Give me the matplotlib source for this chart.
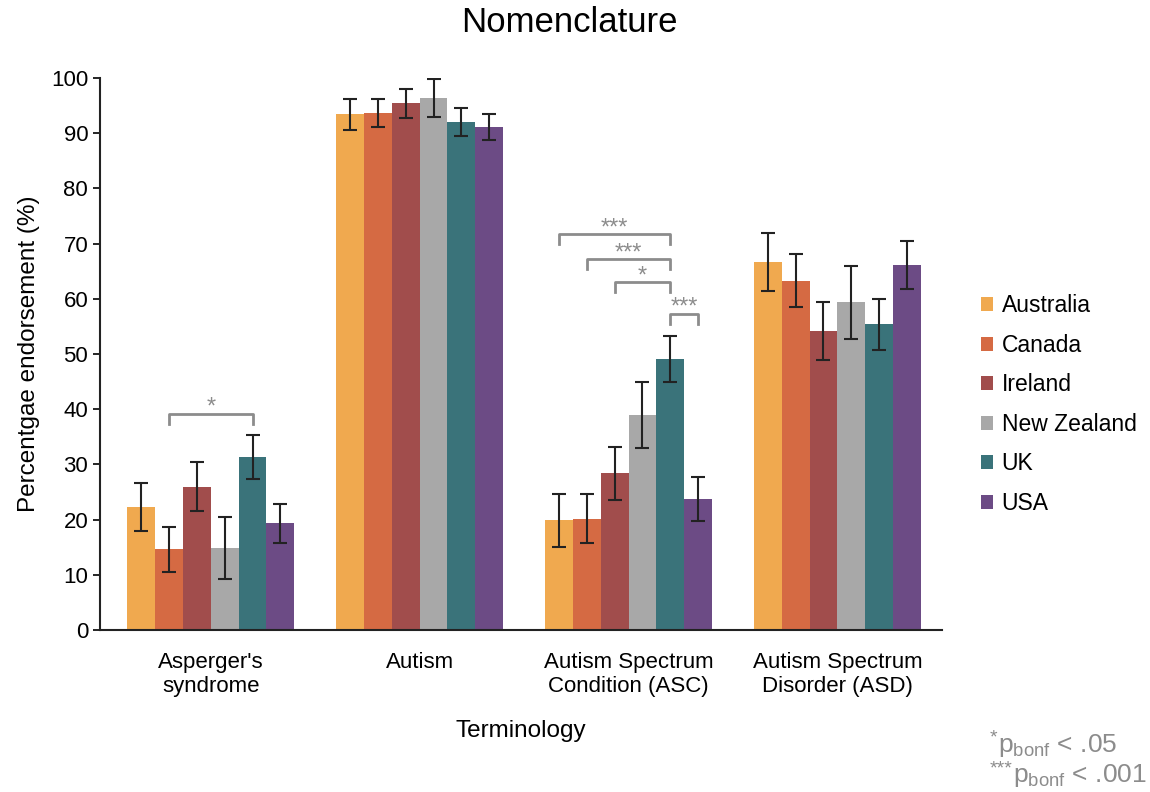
import matplotlib
matplotlib.use("Agg")
import matplotlib.pyplot as plt
import numpy as np

plt.rcParams["font.family"] = ["Liberation Sans", "DejaVu Sans"]

terms = ["Asperger's\nsyndrome", "Autism", "Autism Spectrum\nCondition (ASC)", "Autism Spectrum\nDisorder (ASD)"]
countries = ["Australia", "Canada", "Ireland", "New Zealand", "UK", "USA"]
colors = ["#F0A94F", "#D56A43", "#A14D4C", "#A8A8A8", "#3A737A", "#6C4B85"]

# percentage endorsement per country, one list per term
values = {
    "Australia":   [22.3, 93.4, 19.9, 66.7],
    "Canada":      [14.6, 93.7, 20.2, 63.3],
    "Ireland":     [26.0, 95.4, 28.4, 54.2],
    "New Zealand": [14.9, 96.4, 38.9, 59.4],
    "UK":          [31.3, 92.0, 49.1, 55.4],
    "USA":         [19.3, 91.1, 23.7, 66.1],
}
errors = {
    "Australia":   [4.3, 2.8, 4.8, 5.2],
    "Canada":      [4.0, 2.5, 4.4, 4.8],
    "Ireland":     [4.4, 2.7, 4.8, 5.2],
    "New Zealand": [5.6, 3.5, 6.0, 6.6],
    "UK":          [4.0, 2.5, 4.2, 4.6],
    "USA":         [3.5, 2.3, 4.0, 4.3],
}

# significance brackets: (term index, country a, country b, level, label)
brackets = [
    (0, 1, 4, 39.2, "*"),
    (2, 0, 4, 71.7, "***"),
    (2, 1, 4, 67.2, "***"),
    (2, 2, 4, 63.0, "*"),
    (2, 4, 5, 57.3, "***"),
]

footnotes = [("*", "< .05"), ("***", "< .001")]

fig = plt.figure(figsize=(11.5, 7.92), dpi=100)
ax = fig.add_axes([0.087, 0.2045, 0.732, 0.697])

n = len(countries)
width = 0.8 / n
x = np.arange(len(terms))
for i, c in enumerate(countries):
    pos = x + (i - (n - 1) / 2) * width
    ax.bar(pos, values[c], width=width, color=colors[i], label=c)
    ax.errorbar(pos, values[c], yerr=errors[c], fmt="none", ecolor="#222222",
                elinewidth=1.5, capsize=5, capthick=1.5)

gray = "#8C8C8C"
for t, a, b, lvl, lab in brackets:
    xa = x[t] + (a - (n - 1) / 2) * width
    xb = x[t] + (b - (n - 1) / 2) * width
    ax.plot([xa, xa, xb, xb], [lvl - 1.8, lvl, lvl, lvl - 1.8], color=gray, lw=2)
    ax.text((xa + xb) / 2, lvl - 0.9, lab, ha="center", va="bottom",
            color=gray, fontsize=17)

ax.set_xlim(-0.53, 3.5)
ax.set_ylim(0, 100)
ax.set_yticks(np.arange(0, 101, 10))
ax.set_xticks(x)
ax.set_xticklabels(terms, fontsize=16)
ax.tick_params(axis="y", labelsize=16, direction="out", length=5, width=1.2)
ax.tick_params(axis="x", length=0, pad=16)
for s in ["top", "right"]:
    ax.spines[s].set_visible(False)
for s in ["left", "bottom"]:
    ax.spines[s].set_linewidth(1.5)
    ax.spines[s].set_color("#222222")

ax.set_ylabel("Percentgae endorsement (%)", fontsize=17.5, labelpad=8)
ax.set_xlabel("Terminology", fontsize=17.5, labelpad=16)
fig.suptitle("Nomenclature", x=0.495, y=0.972, va="center", fontsize=25)

fig.legend(loc="center left", bbox_to_anchor=(0.835, 0.489), frameon=False,
           fontsize=16.5, handlelength=0.55, handleheight=0.55, handletextpad=0.35,
           labelspacing=0.72)

# footnote: superscript stars followed by p_bonf
fig.canvas.draw()
renderer = fig.canvas.get_renderer()
for k, (stars, rest) in enumerate(footnotes):
    yb = 0.05 - k * 0.038
    st = fig.text(0.861, yb + 0.012, stars, color=gray, fontsize=14, va="baseline")
    bb = st.get_window_extent(renderer)
    x1 = fig.transFigure.inverted().transform((bb.x1, bb.y0))[0]
    fig.text(x1, yb, r"p$_{\mathregular{bonf}}$ " + rest, color=gray,
             fontsize=19, va="baseline")

fig.savefig("out.png")
